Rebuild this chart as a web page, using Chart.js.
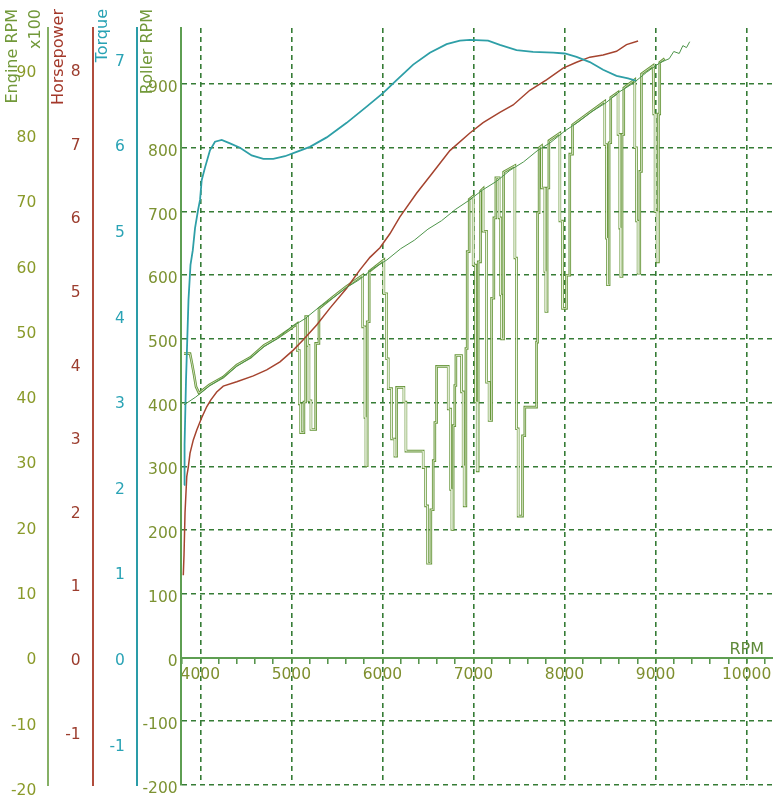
<!DOCTYPE html>
<html>
<head>
<meta charset="utf-8">
<script src="https://cdn.jsdelivr.net/npm/chart.js@4.4.1/dist/chart.umd.min.js"></script>
<style>
  html, body { margin: 0; padding: 0; background: #fff; }
  #wrap { width: 773px; height: 803px; }
</style>
</head>
<body>
<div id="wrap"><canvas id="dynoChart" width="773" height="803"></canvas></div>
<script>
// --- データ (x = エンジン回転 RPM) ---
const torqueRpm = [3821, 3827, 3843, 3870, 3892, 3917, 3942, 3975, 3997, 4015, 4052, 4106, 4161, 4235, 4326, 4436, 4564, 4692, 4801, 4930, 5058, 5204, 5388, 5607, 5827, 6009, 6156, 6338, 6521, 6705, 6851, 6961, 7161, 7290, 7473, 7655, 7875, 8003, 8132, 8278, 8424, 8571, 8698, 8790];
const torqueVal = [2.01, 2.48, 3.24, 4.17, 4.58, 4.75, 5.01, 5.22, 5.34, 5.57, 5.72, 5.92, 6.02, 6.04, 6.00, 5.95, 5.86, 5.82, 5.82, 5.85, 5.90, 5.96, 6.07, 6.24, 6.43, 6.59, 6.74, 6.92, 7.06, 7.16, 7.20, 7.21, 7.20, 7.15, 7.09, 7.07, 7.06, 7.05, 7.01, 6.95, 6.86, 6.79, 6.76, 6.73];

const hpRpm = [3813, 3821, 3832, 3851, 3868, 3887, 3923, 3960, 4015, 4070, 4114, 4180, 4252, 4400, 4582, 4729, 4875, 5021, 5131, 5278, 5424, 5607, 5753, 5863, 5973, 6082, 6192, 6375, 6558, 6741, 6961, 7106, 7290, 7436, 7619, 7802, 7985, 8132, 8278, 8424, 8571, 8681, 8808];
const hpVal = [1.11, 1.39, 1.96, 2.45, 2.58, 2.77, 2.95, 3.08, 3.25, 3.40, 3.49, 3.60, 3.68, 3.74, 3.82, 3.90, 4.01, 4.17, 4.31, 4.51, 4.74, 5.01, 5.26, 5.43, 5.56, 5.75, 5.98, 6.30, 6.59, 6.88, 7.12, 7.26, 7.40, 7.50, 7.70, 7.84, 8.00, 8.08, 8.15, 8.18, 8.23, 8.32, 8.37];

// Engine RPM x100
const engineRpm = [3821, 3950, 4100, 4250, 4400, 4550, 4700, 4850, 5000, 5150, 5300, 5450, 5600, 5750, 5900, 6050, 6200, 6350, 6500, 6650, 6800, 6950, 7100, 7250, 7400, 7550, 7700, 7850, 8000, 8150, 8300, 8450, 8600, 8750, 8900, 9050, 9150, 9200, 9260, 9300, 9340, 9375];
const engineVal = [38.2, 39.4, 41.1, 42.4, 44.1, 45.4, 47.1, 48.4, 50.1, 51.4, 53.1, 54.5, 56.1, 57.4, 59.1, 60.4, 62.1, 63.4, 65.1, 66.4, 68.1, 69.5, 71.1, 72.4, 74.1, 75.4, 77.1, 78.4, 80.1, 81.5, 83.1, 84.4, 86.1, 87.4, 89.1, 90.6, 91.2, 92.3, 92.0, 93.2, 92.9, 93.8];

// Roller RPM (ドロップアウトあり)
const rollerRpm = [
  3821, 3887, 3909, 3931, 3953, 3986,
  4100, 4250, 4400, 4550, 4700, 4850, 4980, 5065,
  5065, 5087, 5087, 5102, 5102, 5138, 5138, 5157, 5157, 5179, 5179, 5193, 5193, 5215, 5215, 5267, 5267, 5303, 5303,
  5450, 5600, 5783,
  5783, 5808, 5808, 5819, 5819, 5833, 5833, 5855, 5855,
  6016,
  6016, 6046, 6046, 6064, 6064, 6101, 6101, 6137, 6137, 6156, 6156, 6236, 6236, 6258, 6258, 6448, 6448, 6474, 6474, 6496, 6496, 6532, 6532, 6558, 6558, 6576, 6576, 6595, 6595, 6723, 6723, 6749, 6749, 6763, 6763, 6777, 6777, 6795, 6795, 6807, 6807, 6869, 6869, 6887, 6887, 6898, 6898, 6917, 6917, 6931, 6931, 6953, 6953,
  6997,
  6997, 7023, 7023, 7041, 7041, 7052, 7052, 7078, 7078,
  7106,
  7106, 7144, 7144, 7172, 7172, 7199, 7199, 7224, 7224, 7246, 7246,
  7282,
  7282, 7298, 7298, 7309, 7309, 7331, 7331,
  7455,
  7455, 7473, 7473, 7491, 7491, 7539, 7539, 7564, 7564, 7693, 7693, 7704, 7704, 7721, 7721,
  7748,
  7748, 7784, 7784, 7795, 7795, 7809, 7809, 7828, 7828,
  7949,
  7949, 7978, 7978, 8022, 8022, 8058, 8058, 8088, 8088,
  8250, 8442,
  8442, 8461, 8461, 8472, 8472, 8490, 8490, 8508, 8508,
  8588,
  8588, 8607, 8607, 8618, 8618, 8632, 8632, 8651, 8651,
  8772,
  8772, 8791, 8791, 8808, 8808, 8827, 8827, 8845, 8845,
  8973,
  8980, 8995, 8995, 9017, 9017, 9032, 9032, 9046, 9046,
  9100
];
const rollerVal = [
  477, 477, 461, 444, 425, 415,
  428, 440, 459, 471, 490, 502, 515, 524,
  482, 482, 398, 398, 353, 353, 401, 401, 535, 535, 490, 490, 403, 403, 358, 358, 493, 493, 548,
  565, 582, 600,
  519, 519, 377, 377, 301, 301, 527, 527, 606,
  624,
  571, 571, 469, 469, 422, 422, 343, 343, 316, 316, 424, 424, 401, 401, 324, 324, 298, 298, 238, 238, 148, 148, 232, 232, 309, 309, 369, 369, 457, 457, 390, 390, 264, 264, 201, 201, 364, 364, 427, 427, 474, 474, 417, 417, 301, 301, 238, 238, 485, 485, 637, 637, 719,
  724,
  616, 616, 401, 401, 293, 293, 621, 621, 732,
  736,
  669, 669, 432, 432, 372, 372, 564, 564, 690, 690, 753,
  753,
  690, 690, 569, 569, 500, 500, 762,
  772,
  627, 627, 359, 359, 222, 222, 348, 348, 393, 393, 495, 495, 698, 698, 800,
  803,
  737, 737, 606, 606, 543, 543, 737, 737, 811,
  823,
  685, 685, 548, 548, 600, 600, 790, 790, 836,
  853, 873,
  805, 805, 658, 658, 585, 585, 808, 808, 879,
  887,
  821, 821, 674, 674, 598, 598, 821, 821, 894,
  907,
  800, 800, 685, 685, 603, 603, 763, 763, 916,
  929,
  853, 853, 700, 700, 621, 621, 853, 853, 934,
  940
];

// 目盛り
const rpmTicks = [3800, 4000, 4200, 4400, 4600, 4800, 5000, 5200, 5400, 5600, 5800, 6000, 6200, 6400, 6600, 6800, 7000, 7200, 7400, 7600, 7800, 8000, 8200, 8400, 8600, 8800, 9000, 9200, 9400, 9600, 9800, 10000, 10200];
const engineTicks = [-20, -10, 0, 10, 20, 30, 40, 50, 60, 70, 80, 90];
const hpTicks = [-1, 0, 1, 2, 3, 4, 5, 6, 7, 8];
const torqueTicks = [-1, 0, 1, 2, 3, 4, 5, 6, 7];
const rollerTicks = [-200, -100, 0, 100, 200, 300, 400, 500, 600, 700, 800, 900];

const toPoints = (xs, ys) => xs.map((x, i) => ({ x: x, y: ys[i] }));
const fixTicks = (list) => (scale) => { scale.ticks = list.map(v => ({ value: v })); };
const fixWidth = (scale) => { scale.width = 44.3; };

const GRID = '#367c36';
const tickFont = { family: 'DejaVu Sans', size: 15.5 };

// 軸タイトル (回転テキスト) と "RPM"
const axisTitlePlugin = {
  id: 'axis-title-plugin',
  afterDraw: function (chart) {
    const ctx = chart.ctx;
    const titles = [
      { axis: 'yEngine', text: 'Engine RPM', dx: 9, color: '#72993a' },
      { axis: 'yEngine', text: 'x100', dx: 32, color: '#72993a' },
      { axis: 'yHp', text: 'Horsepower', dx: 10.5, color: '#a3382a' },
      { axis: 'yTorque', text: 'Torque', dx: 10.5, color: '#28a2b4' },
      { axis: 'y', text: 'Roller RPM', dx: 10.5, color: '#72993a' },
    ];
    ctx.save();
    ctx.font = '16px "DejaVu Sans"';
    ctx.textAlign = 'right';
    ctx.textBaseline = 'middle';
    titles.forEach(function (t) {
      const s = chart.scales[t.axis];
      ctx.save();
      ctx.translate(s.left + t.dx, 9);
      ctx.rotate(-Math.PI / 2);
      ctx.fillStyle = t.color;
      ctx.fillText(t.text, 0, 0);
      ctx.restore();
    });
    // x軸ラベル
    ctx.font = '16px "DejaVu Sans"';
    ctx.textAlign = 'right';
    ctx.textBaseline = 'alphabetic';
    ctx.fillStyle = '#5f8a3a';
    ctx.fillText('RPM', 764, 654);
    ctx.restore();
  }
};

const dynoChart = new Chart(document.getElementById('dynoChart'), {
  type: 'line',
  data: {
    datasets: [
      {
        label: 'Engine RPM',
        data: toPoints(engineRpm, engineVal),
        yAxisID: 'yEngine',
        borderColor: '#4d944a',
        borderWidth: 1,
      },
      {
        label: 'Torque',
        data: toPoints(torqueRpm, torqueVal),
        yAxisID: 'yTorque',
        borderColor: '#2e9fa7',
        borderWidth: 1.8,
      },
      {
        label: 'Horsepower',
        data: toPoints(hpRpm, hpVal),
        yAxisID: 'yHp',
        borderColor: '#a5442f',
        borderWidth: 1.5,
      },
      {
        label: 'Roller RPM',
        data: toPoints(rollerRpm, rollerVal),
        yAxisID: 'y',
        borderColor: 'rgba(236,243,226,0.95)',
        borderWidth: 0.8,
      },
      {
        label: 'Roller RPM (outline)',
        data: toPoints(rollerRpm, rollerVal),
        yAxisID: 'y',
        borderColor: '#67963a',
        borderWidth: 2.6,
      },
    ],
  },
  options: {
    responsive: false,
    animation: false,
    layout: { padding: { left: 4, top: 28, right: 0, bottom: 18 } },
    elements: { point: { radius: 0 }, line: { tension: 0, fill: false } },
    plugins: {
      legend: { display: false },
      tooltip: { enabled: false },
    },
    scales: {
      x: {
        type: 'linear',
        position: { y: 0 },
        min: 3790,
        max: 10290,
        afterBuildTicks: fixTicks(rpmTicks),
        ticks: {
          autoSkip: false,
          maxRotation: 0,
          padding: 3,
          color: '#7f8f2e',
          font: tickFont,
          callback: (v) => (v % 1000 === 0 ? String(v) : ''),
        },
        grid: {
          color: (c) => (c.tick && c.tick.value % 1000 === 0 ? GRID : 'rgba(0,0,0,0)'),
          lineWidth: 1.6,
          tickColor: '#4f8f45',
          tickWidth: 1.5,
          tickLength: 5,
        },
        border: { color: '#5e9e52', width: 2, dash: [5, 4] },
      },
      y: {
        type: 'linear',
        position: 'left',
        weight: 1,
        min: -200,
        max: 988,
        afterBuildTicks: fixTicks(rollerTicks),
        afterFit: fixWidth,
        ticks: { color: '#7c9232', font: tickFont, padding: 3.5, labelOffset: 4 },
        grid: { color: GRID, lineWidth: 1.6, drawTicks: false },
        border: { color: '#5e9e52', width: 2, dash: [5, 4] },
      },
      yTorque: {
        type: 'linear',
        position: 'left',
        weight: 2,
        min: -1.495,
        max: 7.348,
        afterBuildTicks: fixTicks(torqueTicks),
        afterFit: fixWidth,
        ticks: { color: '#2aa3b5', font: tickFont, padding: 4, labelOffset: 4 },
        grid: { display: false },
        border: { color: '#2a9ca8', width: 2 },
      },
      yHp: {
        type: 'linear',
        position: 'left',
        weight: 3,
        min: -1.739,
        max: 8.546,
        afterBuildTicks: fixTicks(hpTicks),
        afterFit: fixWidth,
        ticks: { color: '#9c3d2e', font: tickFont, padding: 4, labelOffset: 4 },
        grid: { display: false },
        border: { color: '#b04c3c', width: 2 },
      },
      yEngine: {
        type: 'linear',
        position: 'left',
        weight: 4,
        min: -20,
        max: 95.9,
        afterBuildTicks: fixTicks(engineTicks),
        afterFit: fixWidth,
        ticks: { color: '#8a9a2a', font: tickFont, padding: 4, labelOffset: 6 },
        grid: { display: false },
        border: { color: '#86b066', width: 2 },
      },
    },
  },
  plugins: [axisTitlePlugin],
});
</script>
</body>
</html>
